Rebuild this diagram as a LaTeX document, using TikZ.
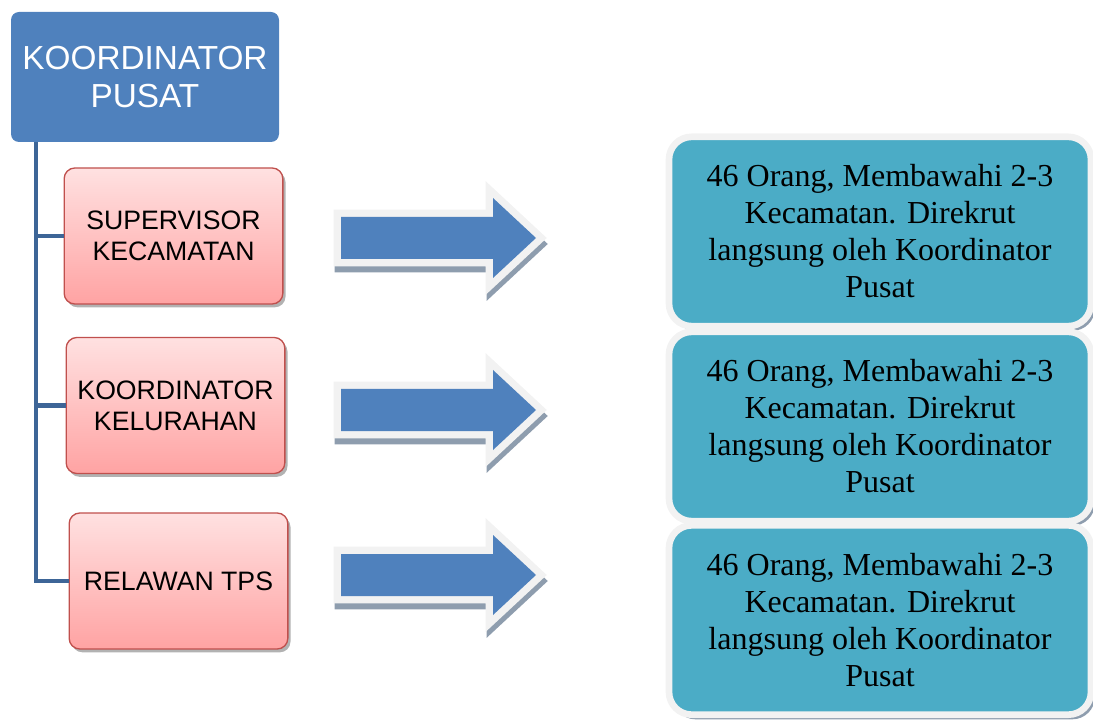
\documentclass[tikz,border=0pt]{standalone}
\usepackage{fontspec}
\setmainfont{Liberation Serif}
\setsansfont{Liberation Sans}
\usetikzlibrary{shadows}
\definecolor{topblue}{HTML}{4F81BD}
\definecolor{trunkblue}{HTML}{3D6597}
\definecolor{redtop}{HTML}{FFE1E1}
\definecolor{redbot}{HTML}{FFA3A3}
\definecolor{redline}{HTML}{C0504D}
\definecolor{teal}{HTML}{4BACC6}
\definecolor{rimgray}{HTML}{F2F2F2}
\definecolor{shadgray}{HTML}{8E9DAE}
\begin{document}
\begin{tikzpicture}[x={(0.75pt,0)},y={(0,-0.75pt)},
  topbox/.style={fill=topblue,rounded corners=6pt,minimum width=201pt,minimum height=97.5pt,
    text=white,align=center,inner sep=0pt,font=\sffamily\fontsize{25}{29}\selectfont},
  redbox/.style={draw=redline,line width=1pt,top color=redtop,bottom color=redbot,
    rounded corners=8pt,minimum width=164pt,minimum height=102pt,align=center,inner sep=0pt,
    font=\sffamily\fontsize{20}{23.25}\selectfont,
    drop shadow={shadow xshift=2pt,shadow yshift=-2.5pt,opacity=0.3,fill=black}},
  tealbox/.style={draw=rimgray,line width=5pt,fill=teal,rounded corners=17pt,
    minimum width=316.5pt,minimum height=142pt,align=center,inner sep=0pt,
    font=\fontsize{24}{27.75}\selectfont,
    drop shadow={shadow xshift=3pt,shadow yshift=-3.5pt,opacity=1,fill=shadgray}},
  trunk/.style={draw=trunkblue,line width=3.6pt},
  arrowbody/.style={fill=topblue,draw=rimgray,line width=11pt,line join=miter},
  arrowshadow/.style={fill=shadgray,draw=shadgray,line width=11pt,line join=miter},
  arrowfill/.style={fill=topblue}
]
\useasboundingbox (0,0) rectangle (1093,720);

% top node
\node[topbox] (kp) at (145,77) {KOORDINATOR\\PUSAT};

% red nodes
\node[redbox] (s1) at (173.5,236) {SUPERVISOR\\KECAMATAN};
\node[redbox] (s2) at (175.5,405.5) {KOORDINATOR\\KELURAHAN};
\node[redbox] (s3) at (178.5,581) {RELAWAN TPS};

% trunk connector
\coordinate (t0) at (36,142);
\draw[trunk] (t0) |- (s3.west);
\draw[trunk] (t0 |- s1.west) -- (s1.west);
\draw[trunk] (t0 |- s2.west) -- (s2.west);

% teal nodes
\node[tealbox] (d1) at (880,231.5) {46 Orang, Membawahi 2-3\\Kecamatan. Direkrut\\langsung oleh Koordinator\\Pusat};
\node[tealbox] (d2) at (880,426.5) {46 Orang, Membawahi 2-3\\Kecamatan. Direkrut\\langsung oleh Koordinator\\Pusat};
\node[tealbox] (d3) at (880,620) {46 Orang, Membawahi 2-3\\Kecamatan. Direkrut\\langsung oleh Koordinator\\Pusat};

% block arrows
\foreach \cy/\nm in {238/a1,410/a2,575/a3}{
  \begin{scope}[shift={(0,\cy)}]
    \path[arrowshadow,shift={(1,6)}] (341,-21) -- (493,-21) -- (493,-40) -- (536,0) -- (493,40) -- (493,21) -- (341,21) -- cycle;
    \path[arrowbody] (341,-21) -- (493,-21) -- (493,-40) -- (536,0) -- (493,40) -- (493,21) -- (341,21) -- cycle;
    \fill[arrowfill] (341,-21) -- (493,-21) -- (493,-40) -- (536,0) -- (493,40) -- (493,21) -- (341,21) -- cycle;
    \coordinate (\nm) at (440,0);
  \end{scope}
}
\end{tikzpicture}
\end{document}
